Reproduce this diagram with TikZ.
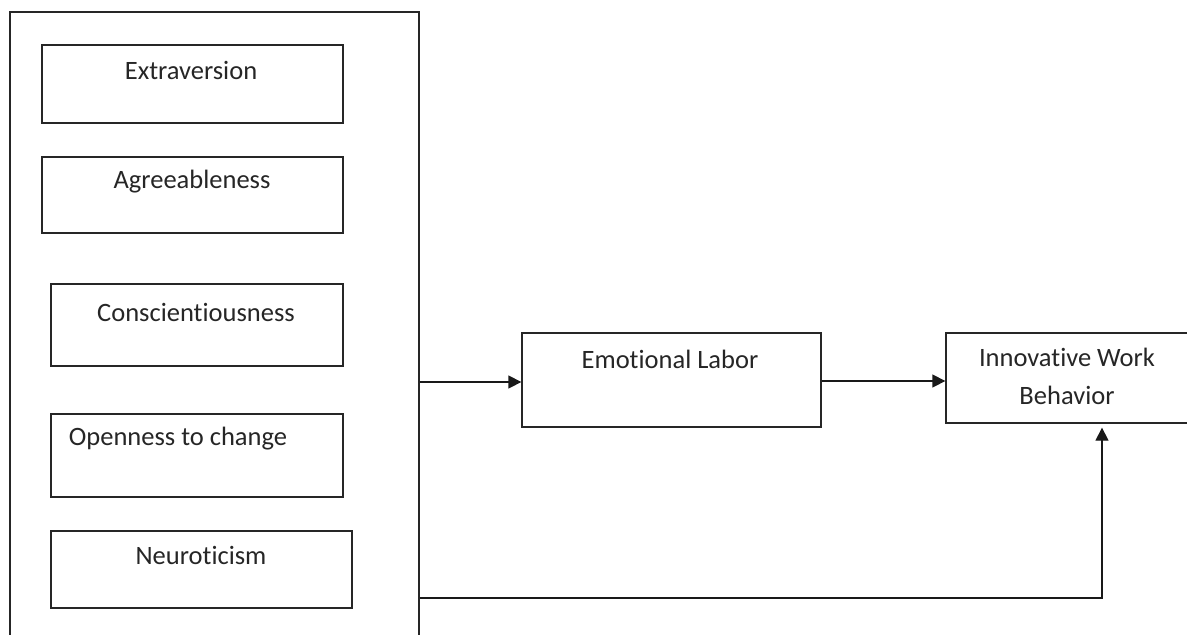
\documentclass[tikz,border=0pt]{standalone}
\usepackage{fontspec}
\setmainfont{Carlito}[Ligatures={NoCommon,NoRequired,NoContextual}]
\usetikzlibrary{arrows.meta}
\begin{document}
\begin{tikzpicture}[x=1pt,y=-1pt,
  box/.style={draw=black!85, line width=1.3pt, inner sep=0pt},
  lbl/.style={text=black!85, font=\fontsize{26.5}{32}\selectfont, inner sep=0pt, anchor=center},
  link/.style={draw=black!90, line width=1.3pt, -{Triangle[length=13pt,width=13pt]}}]
  \useasboundingbox (0,0) rectangle (1187,635);
  \clip (0,0) rectangle (1187,635);
  \fill[white] (0,0) rectangle (1187,635);

  % personality container (its lower edge runs off the page)
  \node[box, minimum width=409pt, minimum height=660pt] (big) at (214.5,342) {};

  % the five traits
  \node[box, minimum width=301pt, minimum height=78pt] (ext) at (192.5,84) {};
  \node[lbl] (extT) at (191,70) {Extraversion};
  \node[box, minimum width=301pt, minimum height=76pt] (agr) at (192.5,195) {};
  \node[lbl] (agrT) at (192,182) {Agreeableness};
  \node[box, minimum width=292pt, minimum height=82pt] (con) at (197,325) {};
  \node[lbl] (conT) at (196,312) {Conscientiousness};
  \node[box, minimum width=292pt, minimum height=83pt] (ope) at (197,455.5) {};
  \node[lbl] (opeT) at (178,439) {Openness to change};
  \node[box, minimum width=301pt, minimum height=77pt] (neu) at (201.5,569.5) {};
  \node[lbl] (neuT) at (201,555) {Neuroticism};

  % mediator and outcome
  \node[box, minimum width=299pt, minimum height=94pt] (el) at (671.5,380) {};
  \node[lbl] (elT) at (670,359) {Emotional Labor};
  \node[box, minimum width=260pt, minimum height=90pt] (iwb) at (1076,378) {};
  \node[lbl, align=center] (iwbT) at (1067,376) {Innovative Work\\[6pt]Behavior};

  % connectors
  \coordinate (turn) at (1102,598);
  \draw[link] (big.east |- 0,382) -- (el.west |- 0,382);
  \draw[link] (el.east |- 0,381) -- (iwb.west |- 0,381);
  \draw[link, shorten >=4pt] (big.east |- turn) -- (turn) -- (turn |- iwb.south);
\end{tikzpicture}
\end{document}
